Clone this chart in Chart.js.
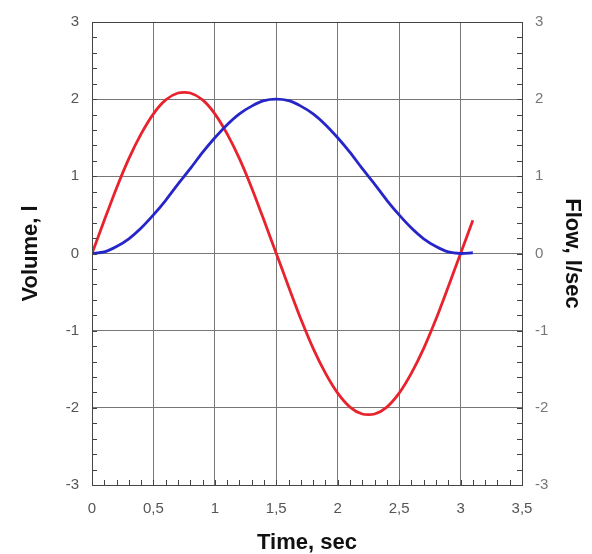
<!DOCTYPE html>
<html>
<head>
<meta charset="utf-8">
<script src="https://cdn.jsdelivr.net/npm/chart.js@4/dist/chart.umd.min.js"></script>
<style>
  html, body { margin: 0; padding: 0; background: #fff; }
  #wrap { width: 592px; height: 554px; }
</style>
</head>
<body>
<div id="wrap"><canvas id="chart" width="592" height="554"></canvas></div>
<script>
// time axis, sec
const times = [0, 0.1, 0.2, 0.3, 0.4, 0.5, 0.6, 0.7, 0.8, 0.9, 1.0, 1.1, 1.2, 1.3, 1.4, 1.5,
  1.6, 1.7, 1.8, 1.9, 2.0, 2.1, 2.2, 2.3, 2.4, 2.5, 2.6, 2.7, 2.8, 2.9, 3.0, 3.1];
// volume, l (blue)
const volume = [0, 0.02, 0.09, 0.19, 0.33, 0.5, 0.69, 0.9, 1.1, 1.31, 1.5, 1.67, 1.81, 1.91, 1.98, 2.0,
  1.98, 1.91, 1.81, 1.67, 1.5, 1.31, 1.1, 0.9, 0.69, 0.5, 0.33, 0.19, 0.09, 0.02, 0, 0.01];
// flow, l/sec (red)
const flow = [0, 0.43, 0.85, 1.23, 1.55, 1.81, 1.99, 2.08, 2.08, 1.99, 1.81, 1.55, 1.23, 0.85, 0.43, 0,
  -0.43, -0.85, -1.23, -1.55, -1.81, -1.99, -2.08, -2.08, -1.99, -1.81, -1.55, -1.23, -0.85, -0.43, 0, 0.43];

const xMajors = [0, 0.5, 1, 1.5, 2, 2.5, 3, 3.5];
const yMajors = [-3, -2, -1, 0, 1, 2, 3];

const isMajor = (v, list) => list.some((m) => Math.abs(m - v) < 1e-6);
const fmt = (v) => String(Math.round(v * 10) / 10).replace('.', ',');

const tickFont = { family: 'Liberation Sans, Arial, sans-serif', size: 15 };
const titleFont = { family: 'Liberation Sans, Arial, sans-serif', size: 22, weight: 'bold', lineHeight: 1 };

// inward minor ticks + closing frame
const frameTicks = {
  id: 'frameTicks',
  afterDraw(chart) {
    const { ctx, chartArea: a } = chart;
    ctx.save();
    ctx.strokeStyle = '#444';
    ctx.lineWidth = 1;
    ctx.beginPath();
    chart.scales.x.ticks.forEach((t) => {
      const px = Math.round(chart.scales.x.getPixelForValue(t.value)) + 0.5;
      ctx.moveTo(px, a.bottom);
      ctx.lineTo(px, a.bottom - 5);
    });
    chart.scales.y.ticks.forEach((t) => {
      const py = Math.round(chart.scales.y.getPixelForValue(t.value)) + 0.5;
      ctx.moveTo(a.left, py);
      ctx.lineTo(a.left + 5, py);
    });
    chart.scales.y2.ticks.forEach((t) => {
      const py = Math.round(chart.scales.y2.getPixelForValue(t.value)) + 0.5;
      ctx.moveTo(a.right, py);
      ctx.lineTo(a.right - 5, py);
    });
    ctx.stroke();
    ctx.strokeRect(Math.round(a.left) + 0.5, Math.round(a.top) + 0.5,
      Math.round(a.right - a.left), Math.round(a.bottom - a.top));
    ctx.restore();
  },
};

new Chart(document.getElementById('chart'), {
  type: 'line',
  data: {
    datasets: [
      {
        label: 'Volume',
        data: times.map((t, i) => ({ x: t, y: volume[i] })),
        borderColor: '#2626c8',
        borderWidth: 2.8,
        pointRadius: 0,
        tension: 0.3,
        yAxisID: 'y',
      },
      {
        label: 'Flow',
        data: times.map((t, i) => ({ x: t, y: flow[i] })),
        borderColor: '#e8232d',
        borderWidth: 2.8,
        pointRadius: 0,
        tension: 0.25,
        yAxisID: 'y2',
      },
    ],
  },
  options: {
    responsive: false,
    animation: false,
    layout: { padding: { top: 18, left: 0, right: 0, bottom: 0 } },
    plugins: { legend: { display: false }, tooltip: { enabled: false } },
    scales: {
      x: {
        type: 'linear',
        min: 0,
        max: 3.5,
        ticks: {
          stepSize: 0.1,
          autoSkip: false,
          maxRotation: 0,
          color: '#555',
          font: tickFont,
          padding: 15,
          callback: (v) => (isMajor(v, xMajors) ? fmt(v) : ''),
        },
        grid: {
          drawTicks: false,
          color: (c) => (isMajor(c.tick.value, xMajors) ? '#777' : 'rgba(0,0,0,0)'),
        },
        border: { color: '#444' },
        title: { display: true, text: 'Time, sec', color: '#111', font: titleFont, padding: { top: 0, bottom: 0 } },
        afterFit: (s) => { s.height = 69; },
      },
      y: {
        position: 'left',
        min: -3,
        max: 3,
        ticks: {
          stepSize: 0.2,
          autoSkip: false,
          color: '#555',
          font: tickFont,
          padding: 13,
          callback: (v) => (isMajor(v, yMajors) ? fmt(v) : ''),
        },
        grid: {
          drawTicks: false,
          color: (c) => (isMajor(c.tick.value, yMajors) ? '#777' : 'rgba(0,0,0,0)'),
        },
        border: { color: '#444' },
        title: { display: true, text: 'Volume, l', color: '#111', font: titleFont, padding: { top: 20, bottom: 0 } },
        afterFit: (s) => { s.width = 92; },
      },
      y2: {
        position: 'right',
        min: -3,
        max: 3,
        ticks: {
          stepSize: 0.2,
          autoSkip: false,
          color: '#777',
          font: tickFont,
          padding: 13,
          callback: (v) => (isMajor(v, yMajors) ? fmt(v) : ''),
        },
        grid: { drawTicks: false, drawOnChartArea: false },
        border: { color: '#444' },
        title: { display: true, text: 'Flow, l/sec', color: '#111', font: titleFont, padding: { top: 9, bottom: 0 } },
        afterFit: (s) => { s.width = 70; },
      },
    },
  },
  plugins: [frameTicks],
});
</script>
</body>
</html>
